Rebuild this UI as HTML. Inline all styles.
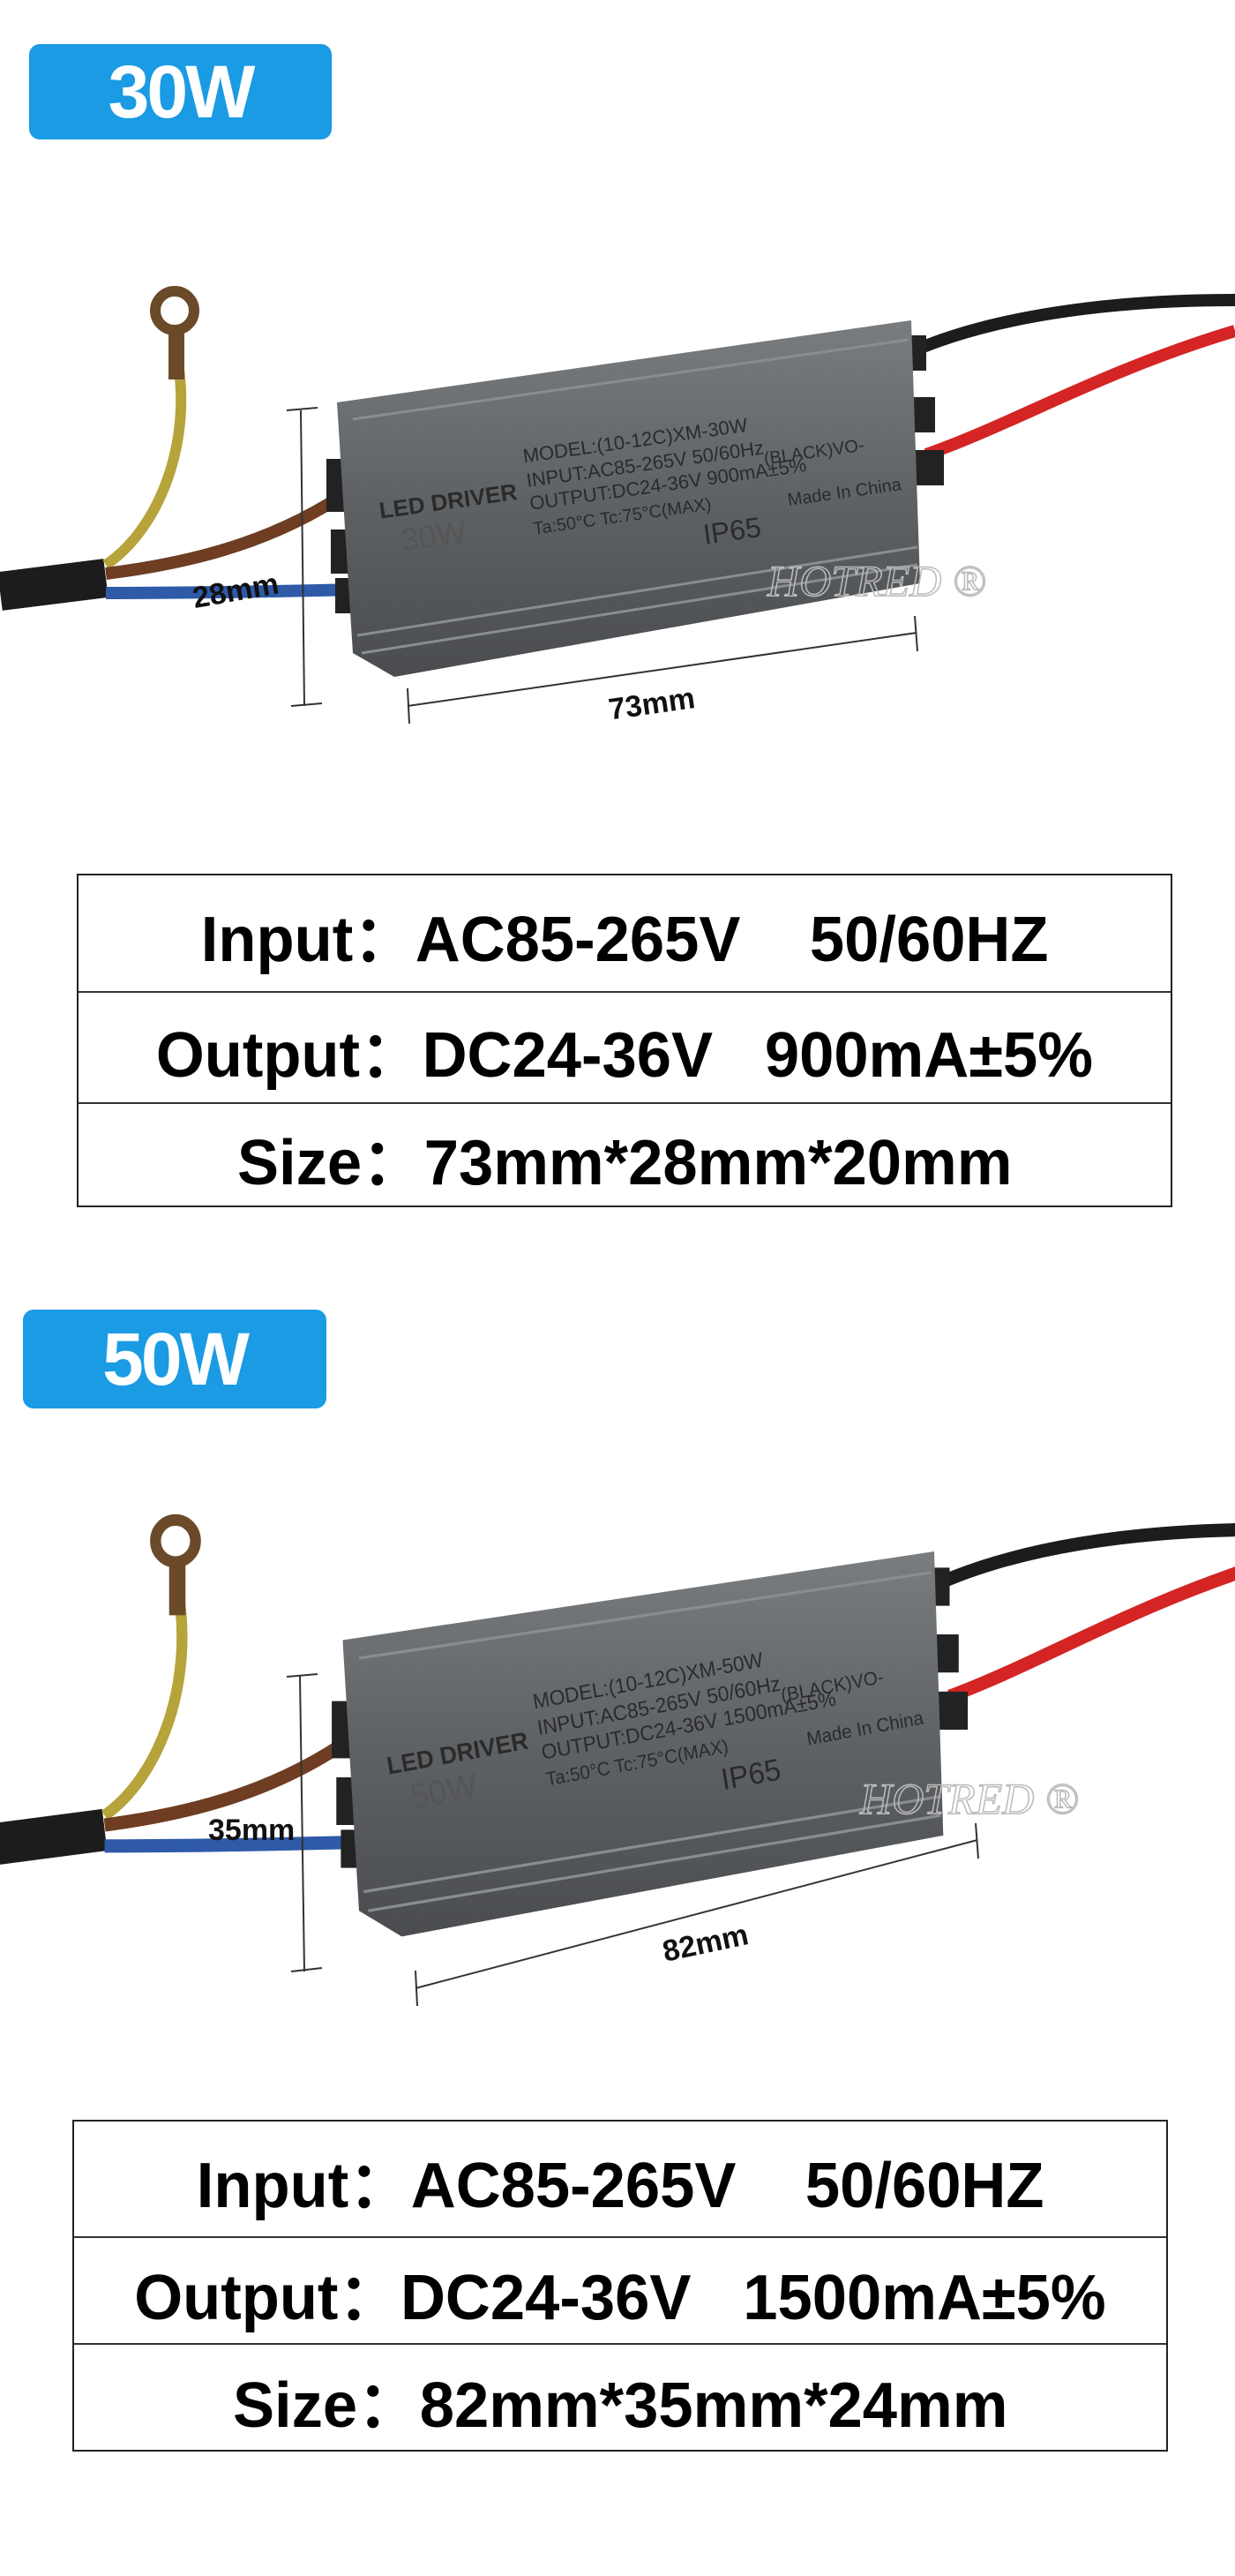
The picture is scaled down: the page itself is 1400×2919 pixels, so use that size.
<!DOCTYPE html>
<html><head><meta charset="utf-8"><style>
html,body{margin:0;padding:0;background:#fff}
body{width:1400px;height:2919px;position:relative;overflow:hidden;font-family:"Liberation Sans",Arial,sans-serif}
.badge{position:absolute;background:#1a9be3;border-radius:12px;color:#fff;font-weight:bold;font-size:84px;text-align:center;letter-spacing:-3px}
.tbl{position:absolute;border:2px solid #222;box-sizing:border-box}
.row{position:absolute;left:0;right:0;border-top:2px solid #333;display:flex;align-items:center;justify-content:center;font-weight:bold;font-size:72px;color:#000;white-space:pre}
.row span{display:inline-block;transform:scaleX(0.98)}
svg{position:absolute;left:0;top:0}
</style></head><body>
<svg width="1400" height="2919" viewBox="0 0 1400 2919">
<defs>
<linearGradient id="gb" x1="0" y1="0" x2="0" y2="1"><stop offset="0" stop-color="#7a7d80"/><stop offset="0.5" stop-color="#5f6265"/><stop offset="1" stop-color="#4a4c4f"/></linearGradient>
<g id="drvbase">
<path d="M0 370 L120 355" stroke="#1c1c1c" stroke-width="44" fill="none"/>
<path d="M200 100 C220 200 180 300 120 340" stroke="#b6a33a" stroke-width="12" fill="none"/>
<path d="M200 75 L200 130" stroke="#6b4a2a" stroke-width="18"/>
<circle cx="198" cy="52" r="22" fill="none" stroke="#6b4a2a" stroke-width="12"/>
<path d="M120 350 C200 340 300 320 390 260" stroke="#6e3d22" stroke-width="14" fill="none"/>
<path d="M120 372 C220 372 320 370 400 368" stroke="#2e5aa8" stroke-width="14" fill="none"/>
<path d="M1030 100 C1120 60 1250 40 1400 40" stroke="#1c1c1c" stroke-width="14" fill="none"/>
<path d="M1050 215 C1150 180 1250 120 1400 75" stroke="#d42424" stroke-width="14" fill="none"/>
<rect x="1010" y="80" width="40" height="40" fill="#222"/>
<rect x="1020" y="150" width="40" height="40" fill="#222"/>
<rect x="1030" y="210" width="40" height="40" fill="#222"/>
<rect x="370" y="220" width="40" height="60" fill="#222"/>
<rect x="375" y="300" width="40" height="50" fill="#222"/>
<rect x="380" y="355" width="40" height="40" fill="#222"/>
<path d="M382 156 L1033 63 L1043 361 L447 467 L400 440 Z" fill="url(#gb)"/>
<path d="M400 175 L1030 85 M405 420 L1040 320 M410 440 L1040 340" stroke="#8a8d90" stroke-width="3"/>
</g>
</defs>
<g transform="translate(0,300)"><use href="#drvbase"/>
<g fill="#2a2a2a" font-family="Liberation Sans,sans-serif" transform="rotate(-8 700 260)">
<text x="430" y="250" font-size="26" font-weight="bold">LED DRIVER</text>
<text x="450" y="290" font-size="36" fill="#555">30W</text>
<text x="600" y="210" font-size="22">MODEL:(10-12C)XM-30W</text>
<text x="600" y="238" font-size="22">INPUT:AC85-265V 50/60Hz</text>
<text x="600" y="264" font-size="22">OUTPUT:DC24-36V 900mA±5%</text>
<text x="600" y="292" font-size="20">Ta:50°C  Tc:75°C(MAX)</text>
<text x="790" y="330" font-size="32">IP65</text>
<text x="890" y="300" font-size="20">Made In China</text>
<text x="870" y="250" font-size="20">(BLACK)VO-</text>
</g></g>
<g transform="translate(-5,1690) scale(1.03,1.08)"><use href="#drvbase"/>
<g fill="#2a2a2a" font-family="Liberation Sans,sans-serif" transform="rotate(-10 700 260)">
<text x="430" y="250" font-size="26" font-weight="bold">LED DRIVER</text>
<text x="450" y="290" font-size="36" fill="#555">50W</text>
<text x="600" y="210" font-size="22">MODEL:(10-12C)XM-50W</text>
<text x="600" y="238" font-size="22">INPUT:AC85-265V 50/60Hz</text>
<text x="600" y="264" font-size="22">OUTPUT:DC24-36V 1500mA±5%</text>
<text x="600" y="292" font-size="20">Ta:50°C  Tc:75°C(MAX)</text>
<text x="790" y="330" font-size="32">IP65</text>
<text x="890" y="300" font-size="20">Made In China</text>
<text x="870" y="250" font-size="20">(BLACK)VO-</text>
</g></g>
<g stroke="#333" stroke-width="2" fill="none">
<line x1="341" y1="465" x2="345" y2="800"/><line x1="325" y1="465" x2="360" y2="462"/><line x1="330" y1="800" x2="365" y2="797"/>
<line x1="462" y1="800" x2="1039" y2="717"/><line x1="462" y1="780" x2="464" y2="820"/><line x1="1037" y1="698" x2="1040" y2="738"/>
<line x1="340" y1="1899" x2="345" y2="2234"/><line x1="325" y1="1900" x2="360" y2="1897"/><line x1="330" y1="2234" x2="365" y2="2230"/>
<line x1="471" y1="2253" x2="1108" y2="2085"/><line x1="471" y1="2233" x2="473" y2="2273"/><line x1="1106" y1="2066" x2="1109" y2="2106"/>
</g>
<g font-family="Liberation Sans,sans-serif" font-weight="bold" font-size="34" fill="#111">
<text x="218" y="682" transform="rotate(-10 260 670)">28mm</text>
<text x="690" y="810" transform="rotate(-8 730 800)">73mm</text>
<text x="236" y="2085">35mm</text>
<text x="750" y="2215" transform="rotate(-12 790 2200)">82mm</text>
</g>
<g font-family="Liberation Serif,serif" font-style="italic" font-size="50" fill="none" stroke="#bbb" stroke-width="1.5">
<text x="870" y="675">HOTRED ®</text>
<text x="975" y="2055">HOTRED ®</text>
</g>
</svg>
<div class="badge" style="left:33px;top:50px;width:343px;height:108px;line-height:108px">30W</div>
<div class="badge" style="left:26px;top:1484px;width:344px;height:112px;line-height:112px">50W</div>
<div class="tbl" style="left:87px;top:990px;width:1242px;height:378px">
<div class="row" style="top:0;height:131px;border-top:none"><span>Input：AC85-265V    50/60HZ</span></div>
<div class="row" style="top:131px;height:126px"><span>Output：DC24-36V   900mA±5%</span></div>
<div class="row" style="top:257px;height:119px"><span>Size：73mm*28mm*20mm</span></div>
</div>
<div class="tbl" style="left:82px;top:2402px;width:1242px;height:376px">
<div class="row" style="top:0;height:130px;border-top:none"><span>Input：AC85-265V    50/60HZ</span></div>
<div class="row" style="top:130px;height:121px"><span>Output：DC24-36V   1500mA±5%</span></div>
<div class="row" style="top:251px;height:123px"><span>Size：82mm*35mm*24mm</span></div>
</div>
</body></html>
